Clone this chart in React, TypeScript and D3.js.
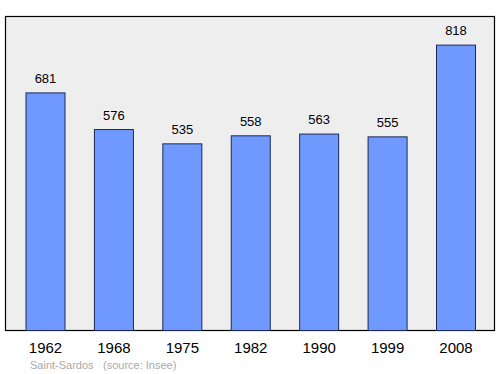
import React from "react";
import * as d3 from "d3";

const years = ["1962", "1968", "1975", "1982", "1990", "1999", "2008"];
const population = [681, 576, 535, 558, 563, 555, 818];
const place = "Saint-Sardos";
const source = "(source: Insee)";

export default function App() {
  const W = 500, H = 374;
  const left = 5.5, right = 494.5, top = 16.5, bottom = 330.5;
  const x = d3.scalePoint<string>().domain(years).range([45.5, 456]);
  const y = d3.scaleLinear().domain([0, 900]).range([bottom, top]);
  const bw = 39;
  return (
    <svg width={W} height={H} style={{ position: "absolute", left: 0, top: 0 }} fontFamily="'Liberation Sans', Arial, sans-serif">
      <rect x={left} y={top} width={right - left} height={bottom - top} fill="#eeeeee" stroke="#000" strokeWidth={1.2} />
      {years.map((yr, i) => {
        const cx = x(yr)!;
        const v = population[i];
        return (
          <g key={yr}>
            <rect x={cx - bw / 2} y={y(v)} width={bw} height={bottom - y(v)} fill="#7099ff" stroke="#1a2a55" strokeWidth={1} />
            <text x={cx} y={y(v) - 10} textAnchor="middle" fontSize={13} fill="#000">{v}</text>
            <text x={cx} y={353} textAnchor="middle" fontSize={15} fill="#000">{yr}</text>
          </g>
        );
      })}
      <text x={30} y={369} fontSize={11} fill="#aaaaaa">{place}</text>
      <text x={103} y={369} fontSize={11} fill="#aaaaaa">{source}</text>
    </svg>
  );
}
